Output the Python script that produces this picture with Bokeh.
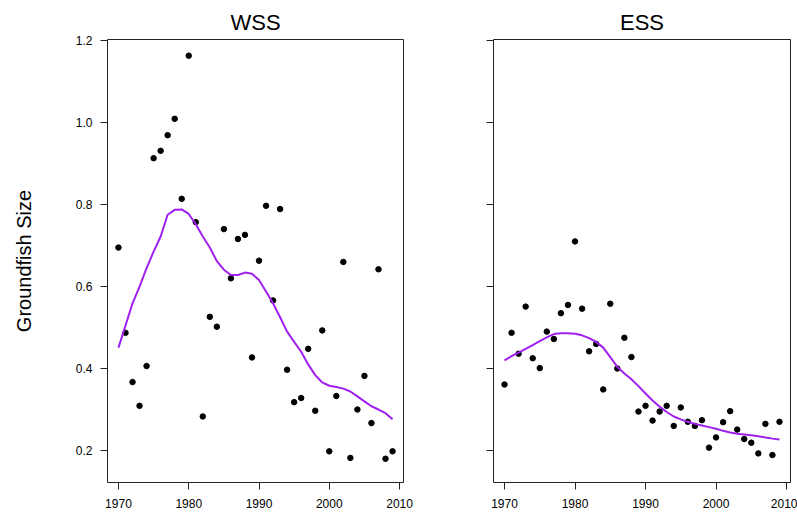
from bokeh.plotting import figure
from bokeh.layouts import row
from bokeh.models import Range1d, FixedTicker, PrintfTickFormatter
from bokeh.embed import file_html
from bokeh.resources import INLINE

years = list(range(1970, 2010))

wss_values = [0.695, 0.487, 0.367, 0.309, 0.406, 0.913, 0.931, 0.969, 1.009, 0.814,
              1.163, 0.757, 0.283, 0.526, 0.502, 0.740, 0.620, 0.716, 0.726, 0.427,
              0.663, 0.797, 0.566, 0.789, 0.397, 0.318, 0.328, 0.448, 0.297, 0.493,
              0.198, 0.333, 0.660, 0.182, 0.300, 0.382, 0.267, 0.642, 0.180, 0.198]

wss_smooth = [0.451, 0.505, 0.559, 0.600, 0.645, 0.685, 0.722, 0.775, 0.787, 0.788,
              0.777, 0.752, 0.722, 0.695, 0.662, 0.641, 0.628, 0.628, 0.634, 0.631,
              0.616, 0.588, 0.559, 0.525, 0.490, 0.465, 0.441, 0.410, 0.384, 0.366,
              0.358, 0.355, 0.351, 0.344, 0.332, 0.320, 0.308, 0.300, 0.291, 0.276]

ess_values = [0.361, 0.487, 0.436, 0.551, 0.425, 0.401, 0.490, 0.472, 0.535, 0.555,
              0.710, 0.546, 0.442, 0.460, 0.349, 0.558, 0.400, 0.475, 0.428, 0.295,
              0.309, 0.273, 0.295, 0.309, 0.260, 0.305, 0.270, 0.260, 0.274, 0.207,
              0.232, 0.269, 0.296, 0.251, 0.228, 0.219, 0.193, 0.265, 0.189, 0.270]

ess_smooth = [0.420, 0.430, 0.439, 0.448, 0.457, 0.467, 0.476, 0.484, 0.486, 0.486,
              0.485, 0.481, 0.474, 0.465, 0.451, 0.428, 0.404, 0.388, 0.374, 0.357,
              0.339, 0.322, 0.307, 0.294, 0.283, 0.276, 0.270, 0.265, 0.261, 0.257,
              0.253, 0.248, 0.244, 0.241, 0.239, 0.237, 0.235, 0.232, 0.229, 0.227]

x_ticks = [1970, 1980, 1990, 2000, 2010]
y_ticks = [0.2, 0.4, 0.6, 0.8, 1.0, 1.2]

FONT = "Liberation Sans"
PURPLE = "#A020F0"


def make_panel(title, vals, smooth, width, left, right, show_ylabels):
    p = figure(width=width, height=513, title=title,
               x_range=Range1d(1968.44, 2010.56), y_range=Range1d(0.122, 1.2025),
               output_backend="svg", toolbar_location=None)
    p.min_border_left = left
    p.min_border_right = right
    p.min_border_top = 39
    p.min_border_bottom = 31
    p.background_fill_color = "white"
    p.border_fill_color = "white"
    p.outline_line_color = "#222222"
    p.outline_line_width = 1
    p.xgrid.visible = False
    p.ygrid.visible = False

    p.title.text_font = FONT
    p.title.text_font_size = "22px"
    p.title.text_font_style = "normal"
    p.title.align = "center"
    p.title.text_color = "black"

    for ax in (p.xaxis[0], p.yaxis[0]):
        ax.axis_line_color = None
        ax.major_tick_out = 7
        ax.major_tick_in = 0
        ax.minor_tick_line_color = None
        ax.major_tick_line_color = "#222222"
        ax.major_label_text_font = FONT
        ax.major_label_text_font_size = "12px"
        ax.major_label_text_color = "black"

    p.xaxis[0].ticker = FixedTicker(ticks=x_ticks)
    p.xaxis[0].major_label_standoff = 9
    p.yaxis[0].ticker = FixedTicker(ticks=y_ticks)
    p.yaxis[0].formatter = PrintfTickFormatter(format="%.1f")
    p.yaxis[0].major_label_standoff = 8
    p.yaxis[0].major_label_orientation = "horizontal"
    if show_ylabels:
        p.yaxis[0].axis_label = "Groundfish Size"
        p.yaxis[0].axis_label_text_font = FONT
        p.yaxis[0].axis_label_text_font_size = "20px"
        p.yaxis[0].axis_label_text_font_style = "normal"
        p.yaxis[0].axis_label_text_color = "black"
        p.yaxis[0].axis_label_standoff = 38
    else:
        p.yaxis[0].major_label_text_color = None

    p.scatter(years, vals, size=5.5, color="black", marker="circle")
    p.line(years, smooth, line_color=PURPLE, line_width=2)
    return p


p1 = make_panel("WSS", wss_values, wss_smooth, 448, 107, 45, True)
p2 = make_panel("ESS", ess_values, ess_smooth, 349, 45, 7, False)

layout = row(p1, p2)
open("out.html", "w").write(file_html(layout, INLINE))
